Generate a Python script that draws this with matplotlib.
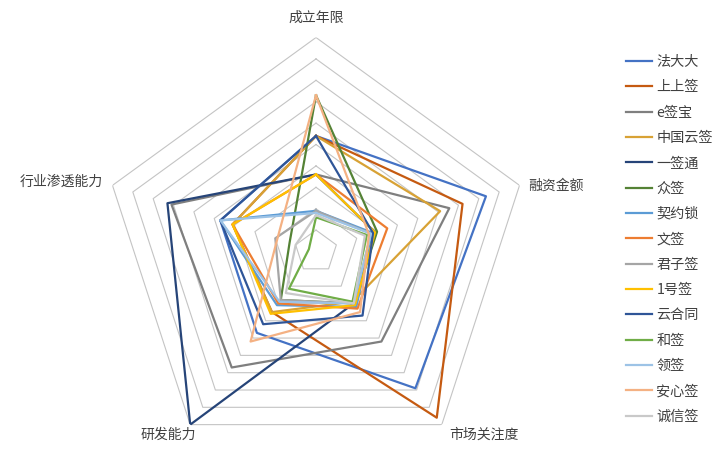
import numpy as np
import matplotlib
matplotlib.use("Agg")
import matplotlib.pyplot as plt

plt.rcParams['font.family'] = ['Noto Sans CJK SC', 'DejaVu Sans']

# radar axes, clockwise from the top
dims = ['成立年限', '融资金额', '市场关注度', '研发能力', '行业渗透能力']

companies = ['法大大', '上上签', 'e签宝', '中国云签', '一签通', '众签', '契约锁', '文签',
             '君子签', '1号签', '云合同', '和签', '领签', '安心签', '诚信签']

colors = ['#4472C4', '#C55A11', '#7F7F7F', '#D8A235', '#264478', '#548235', '#5B9BD5',
          '#ED7D31', '#A5A5A5', '#FFC000', '#2F5597', '#70AD47', '#9DC3E6', '#F4B183', '#C9C9C9']

# values (0-10 scale)
years       = [5.4, 5.4, 3.6, 5.4, 3.6, 7.3, 1.9, 3.6, 1.9, 3.6, 5.4, 1.6, 1.8, 7.3, 1.7]
funding     = [8.35, 7.2, 6.55, 6.1, 2.9, 3.0, 2.8, 3.5, 2.7, 2.9, 2.8, 2.5, 2.7, 2.6, 2.4]
attention   = [7.9, 9.6, 5.2, 2.9, 3.0, 3.0, 3.2, 3.3, 3.0, 3.1, 3.7, 2.9, 3.0, 3.5, 3.0]
rnd         = [4.7, 3.5, 6.7, 3.5, 10.0, 2.8, 3.1, 3.0, 2.8, 3.6, 4.2, 2.15, 2.9, 5.2, 2.4]
penetration = [4.7, 4.1, 7.1, 4.1, 7.3, 1.3, 4.7, 4.1, 2.0, 4.1, 4.7, 0.35, 4.7, 1.9, 1.0]

rings = list(range(1, 11))

fig = plt.figure(figsize=(7.19, 4.65), dpi=100)
R = 214
cx, cy = 316, 465 - 251.5
ax = fig.add_axes([(cx - R) / 719, (cy - R) / 465, 2 * R / 719, 2 * R / 465], projection='polar')
ax.set_theta_offset(np.pi / 2)
ax.set_theta_direction(-1)
ax.set_ylim(0, 10)
ax.grid(False)
ax.spines['polar'].set_visible(False)
ax.set_xticks([])
ax.set_yticks([])
ax.patch.set_alpha(0)

ang = np.linspace(0, 2 * np.pi, len(dims), endpoint=False)
ang_c = np.append(ang, ang[0])

for r in rings:
    ax.plot(ang_c, [r] * len(ang_c), color='#C4C4C4', lw=0.8, zorder=1)

table = np.array([years, funding, attention, rnd, penetration]).T
handles = []
for name, col, vals in zip(companies, colors, table):
    v = np.append(vals, vals[0])
    h, = ax.plot(ang_c, v, color=col, lw=1.6, label=name, zorder=2)
    handles.append(h)

tc = '#404040'
ax.annotate(dims[0], xy=(ang[0], 10), xytext=(0, 20), textcoords='offset pixels',
            ha='center', va='center', fontsize=10, color=tc)
ax.annotate(dims[1], xy=(ang[1], 10), xytext=(9, 0), textcoords='offset pixels',
            ha='left', va='center', fontsize=10, color=tc)
ax.annotate(dims[2], xy=(ang[2], 10), xytext=(7, -10), textcoords='offset pixels',
            ha='left', va='center', fontsize=10, color=tc)
ax.annotate(dims[3], xy=(ang[3], 10), xytext=(6, -10), textcoords='offset pixels',
            ha='right', va='center', fontsize=10, color=tc)
ax.annotate(dims[4], xy=(ang[4], 10), xytext=(-10, 4), textcoords='offset pixels',
            ha='right', va='center', fontsize=10, color=tc)

leg = fig.legend(handles=handles, loc='upper left', bbox_to_anchor=(626 / 719, 1 - 55 / 465),
                 frameon=False, fontsize=10.2, handlelength=1.8, handletextpad=0.35,
                 labelspacing=0.8, borderpad=0, borderaxespad=0)
for t in leg.get_texts():
    t.set_color(tc)

fig.savefig('out.png', dpi=100)
